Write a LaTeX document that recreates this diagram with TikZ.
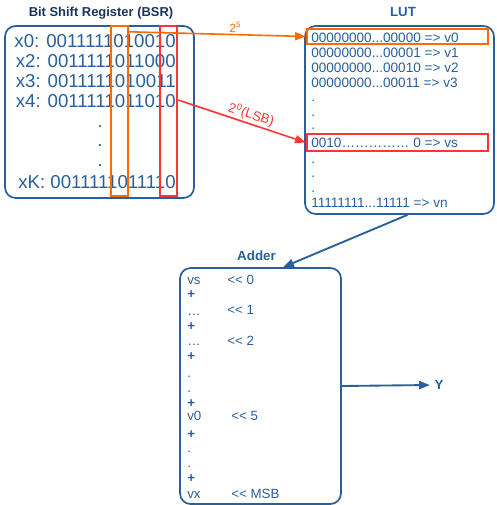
\documentclass[tikz,border=0pt]{standalone}
\usepackage{fontspec}
\setmainfont{Liberation Sans}
\usetikzlibrary{arrows.meta,calc}

\definecolor{regblue}{RGB}{40,96,156}
\definecolor{navy}{RGB}{24,52,90}
\definecolor{bitorange}{RGB}{255,106,0}
\definecolor{bitred}{RGB}{255,52,52}

% two << without the tex-text ligature
\newcommand{\shiftl}{<\kern0pt<}
% three periods, kept away from \foreach
\newcommand{\gap}{...}

\tikzset{
  unit/.style={draw=regblue, line width=1.3pt, rounded corners=8pt},
  bitbox/.style={line width=1.8pt, inner sep=0pt},
  title/.style={anchor=base, font=\fontsize{10}{12}\selectfont\bfseries, text=regblue},
  bsrrow/.style={anchor=base east, inner sep=0pt, font=\fontsize{14}{16}\selectfont, text=regblue},
  lutrow/.style={anchor=base west, inner sep=0pt, font=\fontsize{10.2}{12}\selectfont, text=regblue},
  addrow/.style={anchor=base west, inner sep=0pt, font=\fontsize{10}{12}\selectfont, text=regblue},
  tip/.style={-{Triangle[length=8pt,width=6pt]}}
}

\begin{document}
\begin{tikzpicture}[x=0.75pt,y=-0.75pt]
\useasboundingbox (0,0) rectangle (496,505);

% register
\node[title, text=navy, font=\fontsize{9.7}{12}\selectfont\bfseries] (bsrtitle) at (101,17) {Bit Shift Register (BSR)};
\node[unit, minimum width=141.75pt, minimum height=129pt] (bsr) at (99.5,112) {};
\foreach \y/\t [count=\i] in {48/x0: 0011111010010, 68/x2: 0011111011000,
                              88/x3: 0011111010011, 108/x4: 0011111011010}
  \node[bsrrow] (x\i) at (176,\y) {\t};
\foreach \y [count=\i] in {128,147,167}
  \node[bsrrow, anchor=base] (bsrdot\i) at (100,\y) {.};
\node[bsrrow] (xk) at (176,189) {xK: 0011111011110};

\node[bitbox, draw=bitorange, minimum width=12.75pt, minimum height=127.5pt] (bit5) at (119.5,111) {};
\node[bitbox, draw=bitred, minimum width=12.75pt, minimum height=127.5pt] (bit0) at (168.5,111) {};

% look-up table
\node[title] (luttitle) at (403,17) {LUT};
\node[unit, minimum width=141.75pt, minimum height=141pt] (lut) at (399.5,120) {};
\foreach \y/\t [count=\i] in {43/00000000\gap00000 => v0, 58/00000000\gap00001 => v1,
                              73/00000000\gap00010 => v2, 88/00000000\gap00011 => v3,
                              102/., 117/., 130/., 148/0010…………… 0 => vs,
                              164/., 178/., 193/., 208/11111111\gap11111 => vn}
  \node[lutrow] (lut\i) at (311,\y) {\t};

\node[bitbox, draw=bitorange, minimum width=135.75pt, minimum height=11.25pt] (hi5) at (397.5,36.5) {};
\node[bitbox, draw=bitred, minimum width=135.75pt, minimum height=12.75pt] (hi0) at (397.5,142.5) {};

% adder
\node[title] (addertitle) at (256.5,261) {Adder};
\node[unit, minimum width=120.75pt, minimum height=177pt] (adder) at (260.5,386) {};
\foreach \y/\t [count=\i] in {284/vs, 298/\textbf{+}, 315/…, 330/\textbf{+}, 345/…,
                              360/\textbf{+}, 377/., 392/., 407/\textbf{+}, 420/v0,
                              438/\textbf{+}, 452/., 467/., 482/\textbf{+}, 498/vx}
  \node[addrow] (add\i) at (187,\y) {\t};
\foreach \x/\y/\t [count=\i] in {227/284/0, 227/314/1, 227/345/2, 231/420/5, 231/498/MSB}
  \node[addrow] (sh\i) at (\x,\y) {\shiftl\ \t};

\node[title, anchor=center] (yout) at (439,385) {Y};

% connections
\draw[bitorange, line width=1.2pt, tip] ([yshift=-5.25pt]bit5.north east) --
  node[pos=0.6, above, sloped, inner sep=1pt, font=\fontsize{9}{10}\selectfont] (lblmsb) {2\textsuperscript{5}} (hi5.west);
\draw[bitred, line width=1.2pt, tip] ([yshift=8.25pt]bit0.east) --
  node[pos=0.55, above, sloped, inner sep=1pt, font=\fontsize{10}{12}\selectfont] (lbllsb) {2\textsuperscript{0}(LSB)} (hi0.west);
\draw[regblue, line width=1.4pt, tip] ([xshift=6pt]lut.south) -- ([xshift=17pt]adder.north);
\draw[regblue, line width=1.4pt, tip] (adder.east) -- (yout.west);

\end{tikzpicture}
\end{document}
